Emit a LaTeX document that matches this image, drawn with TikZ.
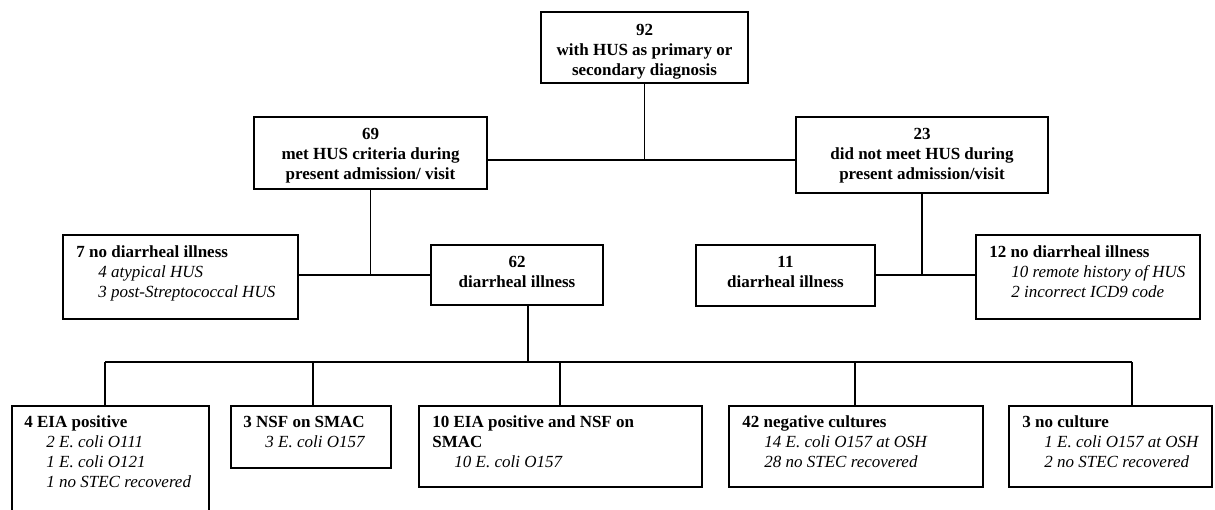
\documentclass[tikz,border=0pt]{standalone}
\usepackage{fontspec}
\setmainfont{Liberation Serif}
\newcommand\ctab[1]{\begin{tabular}[t]{@{}c@{}}#1\end{tabular}}
\newcommand\ltab[1]{\begin{tabular}[t]{@{}l@{}}#1\end{tabular}}
\newcommand\sub[1]{\hspace*{11pt}\textit{#1}}
\newcommand\mkbox[5]{\node[boxst, minimum width=#4*0.5pt, minimum height=#5*0.5pt] (#1) at (#2,#3) {};}
\begin{document}
\begin{tikzpicture}[x=0.5pt,y=-0.5pt,
  boxst/.style={draw=black, line width=1pt, inner sep=0pt, outer sep=0pt, anchor=north west},
  ctext/.style={anchor=base, inner sep=0pt, font=\fontsize{8.5}{10.2}\selectfont\bfseries},
  ltext/.style={anchor=base west, inner sep=0pt, font=\fontsize{8.5}{10}\selectfont},
  conn/.style={draw=black, line width=0.6pt}]
\useasboundingbox (0,0) rectangle (1215,509);
\clip (0,0) rectangle (1215,509);
% boxes
\mkbox{b92}{541}{12}{207}{71}
\mkbox{b69}{254}{117}{233}{72}
\mkbox{b23}{796}{117}{252}{76}
\mkbox{b7}{63}{235}{235}{84}
\mkbox{b62}{431}{245}{172}{60}
\mkbox{b11}{696}{245}{179}{61}
\mkbox{b12}{976}{235}{224}{84}
\mkbox{b4}{12}{406}{197}{124}
\mkbox{bN}{231}{406}{160}{62}
\mkbox{b10}{419}{406}{283}{81}
\mkbox{b42}{729}{406}{254}{81}
\mkbox{b3}{1009}{406}{203}{81}
% texts
\node[ctext] (t92) at (644.5,35) {\ctab{92\\with HUS as primary or\\secondary diagnosis}};
\node[ctext] (t69) at (370.5,139) {\ctab{69\\met HUS criteria during\\present admission/ visit}};
\node[ctext] (t23) at (922,139) {\ctab{23\\did not meet HUS during\\present admission/visit}};
\node[ctext] (t62) at (517,267) {\ctab{62\\diarrheal illness}};
\node[ctext] (t11) at (785.5,267) {\ctab{11\\diarrheal illness}};
\node[ltext] (t7) at (76,257) {\ltab{\textbf{7 no diarrheal illness}\\\sub{4 atypical HUS}\\\sub{3 post-Streptococcal HUS}}};
\node[ltext] (t12) at (989,257) {\ltab{\textbf{12 no diarrheal illness}\\\sub{10 remote history of HUS}\\\sub{2 incorrect ICD9 code}}};
\node[ltext] (t4) at (24,427) {\ltab{\textbf{4 EIA positive}\\\sub{2 E. coli O111}\\\sub{1 E. coli O121}\\\sub{1 no STEC recovered}}};
\node[ltext] (tN) at (243,427) {\ltab{\textbf{3 NSF on SMAC}\\\sub{3 E. coli O157}}};
\node[ltext] (t10) at (432,427) {\ltab{\textbf{10 EIA positive and NSF on}\\\textbf{SMAC}\\\sub{10 E. coli O157}}};
\node[ltext] (t42) at (742,427) {\ltab{\textbf{42 negative cultures}\\\sub{14 E. coli O157 at OSH}\\\sub{28 no STEC recovered}}};
\node[ltext] (t3) at (1022,427) {\ltab{\textbf{3 no culture}\\\sub{1 E. coli O157 at OSH}\\\sub{2 no STEC recovered}}};
% junctions
\coordinate (j1) at (644.5,160);
\coordinate (j2) at (370.5,275);
\coordinate (j3) at (922,275);
\coordinate (j4) at (528,362);
\coordinate (d1) at (105,362);
\coordinate (d2) at (313,362);
\coordinate (d3) at (560,362);
\coordinate (d4) at (855,362);
\coordinate (d5) at (1132,362);
% connectors
\draw[conn] (b92.south) -- (j1);
\draw[conn] (b69.east|-j1) -- (b23.west|-j1);
\draw[conn] (b69.south) -- (j2);
\draw[conn] (b7.east|-j2) -- (b62.west|-j2);
\draw[conn] (b23.south) -- (j3);
\draw[conn] (b11.east|-j3) -- (b12.west|-j3);
\draw[conn] (j4|-b62.south) -- (j4);
\draw[conn] (d1) -- (d5);
\draw[conn] (d1) -- (d1|-b4.north);
\draw[conn] (d2) -- (d2|-bN.north);
\draw[conn] (d3) -- (d3|-b10.north);
\draw[conn] (d4) -- (d4|-b42.north);
\draw[conn] (d5) -- (d5|-b3.north);
\end{tikzpicture}
\end{document}
